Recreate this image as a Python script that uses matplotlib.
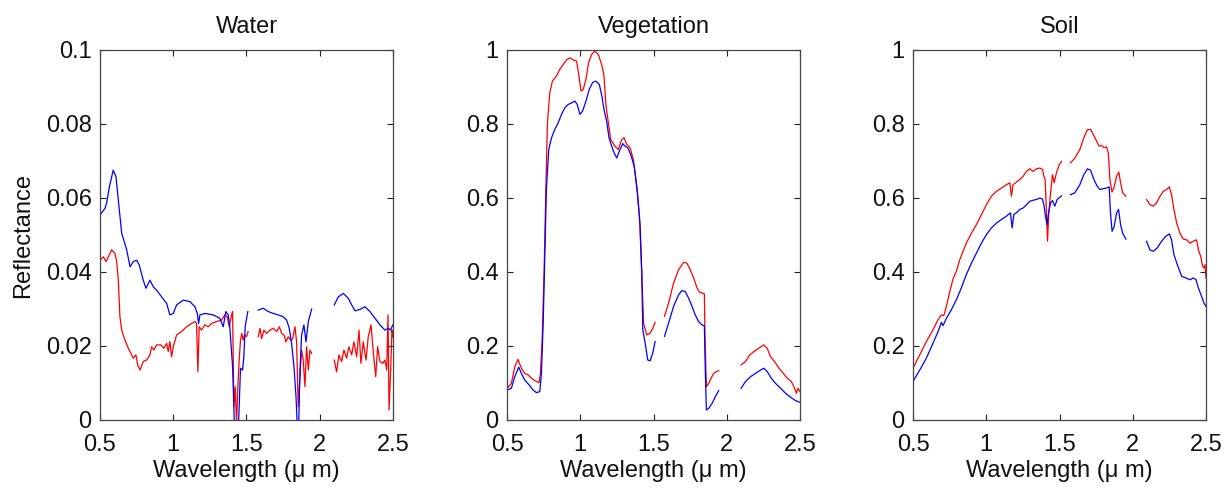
import numpy as np
import matplotlib
matplotlib.use("Agg")
import matplotlib.pyplot as plt

plt.rcParams["font.family"] = ["Liberation Sans", "DejaVu Sans"]

# --- data (wavelength in um, reflectance) ---
# each curve is a list of segments; gaps between segments are bad bands

water_blue_wl = [
    [0.5, 0.534, 0.545, 0.564, 0.59, 0.609, 0.625, 0.648, 0.682, 0.705, 0.727, 0.75,
     0.768, 0.795, 0.814, 0.841, 0.864, 0.886, 0.92, 0.955, 0.977, 1.0, 1.023, 1.068,
     1.114, 1.148, 1.164, 1.173, 1.182, 1.216, 1.273, 1.318, 1.341, 1.359, 1.375,
     1.386, 1.405, 1.418, 1.43, 1.445, 1.459, 1.473, 1.482, 1.491, 1.509],
    [1.58, 1.615, 1.649, 1.683, 1.717, 1.751, 1.774, 1.792, 1.808, 1.824, 1.838,
     1.847, 1.856, 1.865, 1.876, 1.892, 1.906, 1.922, 1.945],
    [2.099, 2.127, 2.161, 2.195, 2.218, 2.241, 2.275, 2.309, 2.343, 2.377, 2.411,
     2.445, 2.468, 2.484, 2.498],
]
water_blue_r = [
    [0.0554, 0.0572, 0.0586, 0.063, 0.0675, 0.0658, 0.0595, 0.0505, 0.046, 0.0414,
     0.0428, 0.0432, 0.0419, 0.0378, 0.0356, 0.0378, 0.036, 0.0351, 0.0333, 0.0315,
     0.0284, 0.0288, 0.0311, 0.0324, 0.032, 0.0306, 0.0288, 0.0261, 0.0284, 0.0288,
     0.0284, 0.0275, 0.0252, 0.0293, 0.0284, 0.0252, 0.0144, -0.002, -0.002, -0.002,
     0.014, 0.0135, 0.0171, 0.0252, 0.0293],
    [0.0297, 0.0302, 0.0293, 0.0288, 0.0284, 0.0279, 0.027, 0.0248, 0.0207, 0.0144,
     0.0063, -0.002, -0.002, 0.0135, 0.0229, 0.0257, 0.0211, 0.0266, 0.03],
    [0.0311, 0.0333, 0.0342, 0.0329, 0.0311, 0.0295, 0.0299, 0.0306, 0.0293, 0.0275,
     0.0257, 0.0243, 0.0248, 0.0243, 0.0257],
]
water_red_wl = [
    [0.5, 0.523, 0.541, 0.557, 0.58, 0.602, 0.614, 0.625, 0.636, 0.648, 0.67, 0.693,
     0.716, 0.727, 0.745, 0.757, 0.773, 0.795, 0.818, 0.841, 0.852, 0.868, 0.886,
     0.914, 0.936, 0.955, 0.966, 0.977, 0.989, 1.0, 1.023, 1.057, 1.091, 1.125, 1.148,
     1.159, 1.168, 1.177, 1.193, 1.216, 1.239, 1.261, 1.295, 1.33, 1.352, 1.368,
     1.382, 1.398, 1.405, 1.414, 1.423, 1.432, 1.441, 1.45, 1.459, 1.468, 1.477,
     1.486, 1.5, 1.511],
    [1.58, 1.592, 1.603, 1.619, 1.637, 1.66, 1.683, 1.706, 1.724, 1.74, 1.758, 1.769,
     1.785, 1.801, 1.815, 1.831, 1.842, 1.853, 1.865, 1.876, 1.887, 1.899, 1.91,
     1.922, 1.933, 1.945],
    [2.099, 2.115, 2.131, 2.149, 2.165, 2.183, 2.199, 2.218, 2.233, 2.252, 2.268,
     2.281, 2.297, 2.316, 2.331, 2.35, 2.366, 2.382, 2.395, 2.411, 2.43, 2.445,
     2.457, 2.466, 2.473, 2.484, 2.493, 2.5],
]
water_red_r = [
    [0.0432, 0.0441, 0.0428, 0.0441, 0.046, 0.045, 0.0428, 0.0378, 0.0279, 0.0243,
     0.0216, 0.0194, 0.0176, 0.0167, 0.0176, 0.0149, 0.0135, 0.0158, 0.0162, 0.0176,
     0.0198, 0.0189, 0.0203, 0.0203, 0.0194, 0.0207, 0.0185, 0.0212, 0.0171, 0.0198,
     0.023, 0.0239, 0.0252, 0.0261, 0.0266, 0.0261, 0.0131, 0.0252, 0.0243, 0.0257,
     0.0252, 0.0261, 0.0266, 0.027, 0.0284, 0.0279, 0.0252, 0.0284, 0.0293, 0.0036,
     0.009, -0.001, 0.009, 0.0162, 0.0216, 0.0234, 0.0216, 0.023, 0.0225, 0.0239],
    [0.0225, 0.0248, 0.022, 0.0243, 0.0234, 0.0243, 0.0248, 0.0239, 0.0252, 0.0234,
     0.0229, 0.0211, 0.0225, 0.0216, 0.022, 0.0252, 0.0211, 0.0036, 0.0117, 0.0189,
     0.0162, 0.009, 0.0198, 0.0135, 0.0189, 0.018],
    [0.0162, 0.013, 0.0176, 0.0158, 0.0189, 0.0167, 0.0198, 0.0176, 0.0211, 0.0171,
     0.0243, 0.0153, 0.0211, 0.0162, 0.0225, 0.0257, 0.018, 0.0117, 0.0198, 0.0158,
     0.0153, 0.0162, 0.0135, 0.0284, 0.0027, 0.0135, 0.0243, 0.0225],
]

veg_red_wl = [
    [0.5, 0.53, 0.553, 0.575, 0.598, 0.621, 0.644, 0.667, 0.69, 0.719, 0.728, 0.74,
     0.753, 0.765, 0.776, 0.792, 0.81, 0.838, 0.861, 0.884, 0.906, 0.929, 0.952,
     0.975, 0.991, 1.005, 1.021, 1.039, 1.057, 1.078, 1.1, 1.123, 1.146, 1.162,
     1.176, 1.192, 1.208, 1.237, 1.26, 1.283, 1.299, 1.317, 1.34, 1.363, 1.386,
     1.404, 1.42, 1.432, 1.454, 1.477, 1.495, 1.511],
    [1.575, 1.603, 1.637, 1.671, 1.705, 1.728, 1.751, 1.774, 1.797, 1.813, 1.831,
     1.847, 1.852, 1.861, 1.877, 1.893, 1.911, 1.93, 1.945],
    [2.098, 2.128, 2.158, 2.185, 2.219, 2.253, 2.276, 2.299, 2.326, 2.356, 2.386,
     2.413, 2.441, 2.463, 2.475, 2.486, 2.5],
]
veg_red_r = [
    [0.0857, 0.099, 0.144, 0.164, 0.14, 0.126, 0.122, 0.113, 0.106, 0.101, 0.126,
     0.217, 0.397, 0.623, 0.803, 0.884, 0.916, 0.93, 0.948, 0.961, 0.973, 0.979,
     0.973, 0.97, 0.93, 0.889, 0.894, 0.921, 0.966, 0.988, 0.997, 0.988, 0.961,
     0.93, 0.848, 0.803, 0.758, 0.74, 0.731, 0.758, 0.763, 0.745, 0.736, 0.704,
     0.632, 0.551, 0.397, 0.262, 0.23, 0.235, 0.248, 0.264],
    [0.28, 0.316, 0.37, 0.406, 0.426, 0.424, 0.406, 0.384, 0.357, 0.346, 0.343,
     0.341, 0.217, 0.09, 0.099, 0.113, 0.126, 0.131, 0.133],
    [0.149, 0.158, 0.176, 0.185, 0.194, 0.203, 0.194, 0.171, 0.158, 0.14, 0.126,
     0.113, 0.104, 0.0857, 0.072, 0.0857, 0.0767],
]
veg_blue_wl = [
    [0.5, 0.53, 0.553, 0.58, 0.598, 0.621, 0.651, 0.678, 0.701, 0.724, 0.735, 0.747,
     0.758, 0.769, 0.785, 0.804, 0.826, 0.849, 0.872, 0.895, 0.918, 0.941, 0.963,
     0.979, 0.998, 1.016, 1.039, 1.062, 1.084, 1.107, 1.13, 1.148, 1.162, 1.18,
     1.196, 1.215, 1.231, 1.249, 1.267, 1.29, 1.306, 1.324, 1.345, 1.368, 1.39,
     1.409, 1.42, 1.427, 1.443, 1.461, 1.477, 1.495, 1.511],
    [1.575, 1.603, 1.637, 1.671, 1.694, 1.717, 1.74, 1.763, 1.785, 1.808, 1.831,
     1.847, 1.854, 1.861, 1.877, 1.9, 1.922, 1.945],
    [2.098, 2.128, 2.162, 2.196, 2.231, 2.253, 2.276, 2.304, 2.333, 2.368, 2.402,
     2.436, 2.47, 2.5],
]
veg_blue_r = [
    [0.081, 0.0857, 0.117, 0.143, 0.126, 0.108, 0.0948, 0.081, 0.074, 0.0767, 0.126,
     0.262, 0.442, 0.623, 0.731, 0.763, 0.785, 0.803, 0.826, 0.844, 0.853, 0.857,
     0.862, 0.853, 0.826, 0.835, 0.862, 0.894, 0.912, 0.916, 0.907, 0.875, 0.839,
     0.808, 0.763, 0.74, 0.722, 0.708, 0.727, 0.747, 0.74, 0.736, 0.717, 0.686,
     0.614, 0.523, 0.397, 0.244, 0.208, 0.162, 0.16, 0.181, 0.212],
    [0.226, 0.262, 0.307, 0.338, 0.35, 0.347, 0.329, 0.307, 0.284, 0.266, 0.257,
     0.255, 0.126, 0.027, 0.0316, 0.045, 0.063, 0.0794],
    [0.0857, 0.104, 0.117, 0.126, 0.135, 0.14, 0.131, 0.113, 0.099, 0.0857, 0.072,
     0.0614, 0.0523, 0.0478],
]

soil_red_wl = [
    [0.5, 0.546, 0.591, 0.637, 0.671, 0.694, 0.71, 0.728, 0.751, 0.773, 0.796, 0.819,
     0.842, 0.864, 0.899, 0.933, 0.967, 1.001, 1.035, 1.069, 1.104, 1.138, 1.161,
     1.172, 1.183, 1.206, 1.229, 1.252, 1.275, 1.297, 1.32, 1.343, 1.366, 1.384,
     1.393, 1.402, 1.411, 1.418, 1.427, 1.439, 1.452, 1.464, 1.479, 1.498, 1.514],
    [1.575, 1.605, 1.639, 1.666, 1.691, 1.712, 1.73, 1.753, 1.771, 1.787, 1.803,
     1.821, 1.833, 1.844, 1.858, 1.871, 1.89, 1.905, 1.917, 1.931, 1.953],
    [2.094, 2.117, 2.14, 2.163, 2.186, 2.208, 2.231, 2.25, 2.265, 2.281, 2.3, 2.322,
     2.345, 2.368, 2.391, 2.413, 2.436, 2.448, 2.464, 2.477, 2.486, 2.493, 2.5],
]
soil_red_r = [
    [0.14, 0.176, 0.212, 0.244, 0.271, 0.284, 0.282, 0.307, 0.347, 0.381, 0.402,
     0.433, 0.456, 0.478, 0.505, 0.528, 0.555, 0.582, 0.605, 0.618, 0.627, 0.636,
     0.641, 0.605, 0.636, 0.643, 0.65, 0.659, 0.672, 0.679, 0.672, 0.679, 0.681,
     0.677, 0.659, 0.65, 0.56, 0.483, 0.56, 0.614, 0.663, 0.641, 0.668, 0.69, 0.699],
    [0.695, 0.708, 0.731, 0.763, 0.785, 0.785, 0.772, 0.754, 0.74, 0.742, 0.736,
     0.738, 0.722, 0.65, 0.616, 0.627, 0.659, 0.67, 0.641, 0.614, 0.605],
    [0.596, 0.582, 0.578, 0.587, 0.605, 0.618, 0.623, 0.63, 0.609, 0.569, 0.532,
     0.505, 0.489, 0.487, 0.478, 0.483, 0.487, 0.46, 0.442, 0.415, 0.411, 0.42, 0.384],
]
soil_blue_wl = [
    [0.5, 0.546, 0.591, 0.637, 0.671, 0.694, 0.705, 0.728, 0.762, 0.796, 0.83, 0.864,
     0.899, 0.933, 0.967, 1.001, 1.035, 1.069, 1.104, 1.138, 1.165, 1.177, 1.188,
     1.206, 1.229, 1.252, 1.275, 1.297, 1.32, 1.343, 1.366, 1.384, 1.395, 1.404,
     1.415, 1.425, 1.439, 1.452, 1.468, 1.484, 1.514],
    [1.575, 1.605, 1.639, 1.666, 1.691, 1.712, 1.735, 1.757, 1.776, 1.798, 1.821,
     1.839, 1.848, 1.859, 1.873, 1.89, 1.903, 1.917, 1.931, 1.953],
    [2.094, 2.117, 2.14, 2.167, 2.197, 2.224, 2.25, 2.265, 2.281, 2.304, 2.334,
     2.363, 2.391, 2.413, 2.432, 2.448, 2.47, 2.486, 2.5],
]
soil_blue_r = [
    [0.104, 0.135, 0.167, 0.208, 0.239, 0.264, 0.255, 0.275, 0.298, 0.325, 0.357,
     0.393, 0.424, 0.451, 0.478, 0.501, 0.519, 0.532, 0.542, 0.551, 0.56, 0.519,
     0.555, 0.56, 0.569, 0.573, 0.582, 0.591, 0.594, 0.596, 0.6, 0.597, 0.578,
     0.551, 0.528, 0.56, 0.587, 0.593, 0.578, 0.596, 0.606],
    [0.609, 0.614, 0.636, 0.663, 0.679, 0.675, 0.65, 0.632, 0.623, 0.625, 0.627,
     0.63, 0.56, 0.51, 0.523, 0.56, 0.569, 0.528, 0.505, 0.489],
    [0.483, 0.46, 0.456, 0.465, 0.483, 0.496, 0.503, 0.487, 0.447, 0.42, 0.388,
     0.384, 0.379, 0.384, 0.379, 0.357, 0.334, 0.316, 0.307],
]

titles = ["Water", "Vegetation", "Soil"]
ymax = [0.1, 1.0, 1.0]
yticks = [[0, 0.02, 0.04, 0.06, 0.08, 0.1], [0, 0.2, 0.4, 0.6, 0.8, 1], [0, 0.2, 0.4, 0.6, 0.8, 1]]
ytick_labels = [["0", "0.02", "0.04", "0.06", "0.08", "0.1"],
                ["0", "0.2", "0.4", "0.6", "0.8", "1"],
                ["0", "0.2", "0.4", "0.6", "0.8", "1"]]
xticks = [0.5, 1, 1.5, 2, 2.5]
xtick_labels = ["0.5", "1", "1.5", "2", "2.5"]

curves = [
    [(water_red_wl, water_red_r), (water_blue_wl, water_blue_r)],
    [(veg_red_wl, veg_red_r), (veg_blue_wl, veg_blue_r)],
    [(soil_red_wl, soil_red_r), (soil_blue_wl, soil_blue_r)],
]
colors = ["red", "blue"]


def join_segments(segments):
    """Join segments with NaN so the bad bands show as gaps"""
    out = []
    for i, seg in enumerate(segments):
        if i > 0:
            out.append(np.nan)
        out.extend(seg)
    return np.array(out, dtype=float)


fs = 17
fig = plt.figure(figsize=(12.28, 4.88), dpi=100)
lefts = [100 / 1228, 507 / 1228, 913 / 1228]
for i in range(3):
    ax = fig.add_axes([lefts[i], 68 / 488, 293 / 1228, 370 / 488])
    for (wl, r), c in zip(curves[i], colors):
        ax.plot(join_segments(wl), join_segments(r), color=c, linewidth=0.9)
    ax.set_xlim(0.5, 2.5)
    ax.set_ylim(0, ymax[i])
    ax.set_xticks(xticks, xtick_labels)
    ax.set_yticks(yticks[i], ytick_labels[i])
    ax.tick_params(direction="in", top=True, right=True, length=4, width=0.8,
                   labelsize=fs, colors="#222222", labelcolor="#111111")
    ax.tick_params(axis="x", pad=10)
    ax.tick_params(axis="y", pad=6)
    for s in ax.spines.values():
        s.set_color("#444444")
        s.set_linewidth(0.9)
    ax.set_title(titles[i], fontsize=fs, pad=12, color="#111111")
    ax.set_xlabel("Wavelength (\u03bc m)", fontsize=fs, labelpad=3, color="#111111")
    if i == 0:
        ax.set_ylabel("Reflectance", fontsize=fs, labelpad=8, color="#111111")

fig.savefig("out.png", dpi=100)
